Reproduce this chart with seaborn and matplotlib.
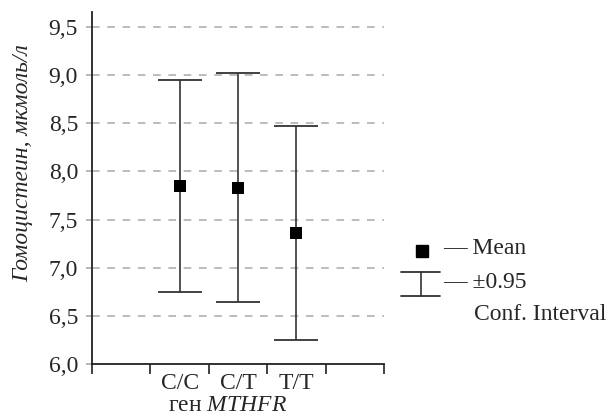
import matplotlib
matplotlib.use('Agg')
import matplotlib.pyplot as plt
import seaborn as sns
import numpy as np
import pandas as pd
from matplotlib.lines import Line2D

# Data
genotypes = ['C/C', 'C/T', 'T/T']
means = [7.85, 7.83, 7.36]
ci_low = [6.75, 6.64, 6.25]
ci_high = [8.95, 9.03, 8.47]
y_ticks = [6.0, 6.5, 7.0, 7.5, 8.0, 8.5, 9.0, 9.5]

sns.set_theme(style='ticks')
plt.rcParams['font.family'] = ['Liberation Serif', 'DejaVu Serif']
plt.rcParams['mathtext.fontset'] = 'custom'
plt.rcParams['mathtext.it'] = 'Liberation Serif:italic'
plt.rcParams['mathtext.rm'] = 'Liberation Serif'

FS = 17

df = pd.DataFrame({'genotype': genotypes, 'mean': means, 'low': ci_low, 'high': ci_high})
df['pos'] = np.arange(len(df)) + 1.5

fig = plt.figure(figsize=(6.09, 4.16), dpi=100)
ax = fig.add_axes([0.151, 0.126, 0.4795, 0.845])

# confidence intervals
ax.errorbar(df['pos'], df['mean'],
            yerr=[df['mean'] - df['low'], df['high'] - df['mean']],
            fmt='none', ecolor='#333333', elinewidth=1.2, capsize=16, capthick=1.3, zorder=2)
# means
sns.scatterplot(data=df, x='pos', y='mean', marker='s', s=75, color='black',
                edgecolor='black', linewidth=0, ax=ax, zorder=3, legend=False)

ax.set_xlim(0, 5)
ax.set_ylim(6.0, 9.66)
ax.set_yticks(y_ticks)
ax.set_yticklabels([f'{v:.1f}'.replace('.', ',') for v in y_ticks], fontsize=FS)
ax.set_xticks(range(6))
ax.set_xticklabels([])
ax.set_xticks(df['pos'], minor=True)
ax.set_xticklabels(df['genotype'], minor=True, fontsize=FS)
ax.tick_params(axis='x', which='major', length=7, width=1.2, color='#222222')
ax.tick_params(axis='x', which='minor', length=0, pad=7)
ax.tick_params(axis='y', length=4, width=1.2, color='#aaaaaa', pad=6)

for v in y_ticks[1:]:
    ax.axhline(v, color='#aaaaaa', linestyle=(0, (5, 5)), linewidth=1.1, zorder=1)

sns.despine(ax=ax, top=True, right=True)
for s in ['left', 'bottom']:
    ax.spines[s].set_color('#222222')
    ax.spines[s].set_linewidth(1.3)

ax.set_xlabel('ген $\\it{MTHFR}$', fontsize=FS, labelpad=0)
ax.xaxis.set_label_coords(0.466, -0.089)
ax.set_ylabel('Гомоцистеин, мкмоль/л', fontsize=FS, fontstyle='italic')
ax.yaxis.set_label_coords(-0.20, 0.57)

# legend drawn manually
fig.add_artist(Line2D([421.7 / 609], [1 - 250.7 / 416], marker='s', markersize=8,
                      color='black', linestyle='none', transform=fig.transFigure))
fig.text(443 / 609, 1 - 248 / 416, '— Mean', fontsize=FS, va='center', ha='left')
fig.add_artist(Line2D([401 / 609, 440 / 609], [1 - 271.7 / 416] * 2, color='#333333', lw=1.3))
fig.add_artist(Line2D([401 / 609, 440 / 609], [1 - 296 / 416] * 2, color='#333333', lw=1.3))
fig.add_artist(Line2D([420.7 / 609] * 2, [1 - 271.7 / 416, 1 - 296 / 416], color='#333333', lw=1.2))
fig.text(443 / 609, 1 - 283 / 416, '— ±0.95', fontsize=FS, va='center', ha='left')
fig.text(474 / 609, 1 - 314 / 416, 'Conf. Interval', fontsize=FS, va='center', ha='left')

fig.savefig('out.png', dpi=100)
